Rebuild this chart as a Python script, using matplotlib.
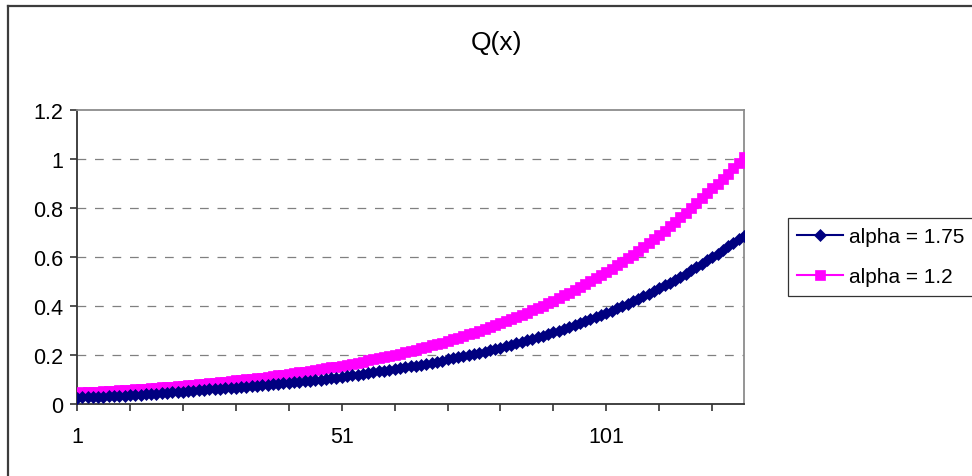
import matplotlib
matplotlib.use("Agg")
import matplotlib.pyplot as plt
from matplotlib.lines import Line2D

plt.rcParams['font.family'] = ['Liberation Sans', 'DejaVu Sans']

# ---- data ----
x = list(range(1, 128))

alpha_175 = [
    0.026, 0.027, 0.028, 0.028, 0.029, 0.030, 0.031, 0.032, 0.033, 0.034,
    0.035, 0.036, 0.037, 0.039, 0.040, 0.041, 0.043, 0.045, 0.047, 0.049,
    0.051, 0.053, 0.054, 0.056, 0.058, 0.060, 0.061, 0.063, 0.064, 0.066,
    0.067, 0.069, 0.071, 0.072, 0.074, 0.076, 0.078, 0.080, 0.082, 0.084,
    0.086, 0.088, 0.090, 0.092, 0.095, 0.097, 0.100, 0.102, 0.105, 0.108,
    0.111, 0.114, 0.117, 0.120, 0.123, 0.126, 0.129, 0.133, 0.136, 0.139,
    0.143, 0.146, 0.150, 0.154, 0.157, 0.161, 0.165, 0.169, 0.173, 0.177,
    0.182, 0.186, 0.190, 0.195, 0.200, 0.204, 0.209, 0.214, 0.219, 0.225,
    0.230, 0.236, 0.242, 0.247, 0.253, 0.260, 0.266, 0.272, 0.279, 0.286,
    0.292, 0.300, 0.307, 0.314, 0.322, 0.330, 0.338, 0.346, 0.354, 0.363,
    0.372, 0.381, 0.390, 0.399, 0.409, 0.419, 0.429, 0.440, 0.450, 0.461,
    0.472, 0.484, 0.495, 0.507, 0.520, 0.532, 0.545, 0.558, 0.572, 0.586,
    0.600, 0.614, 0.629, 0.644, 0.659, 0.673, 0.686,
]

alpha_12 = [
    0.046, 0.047, 0.048, 0.049, 0.050, 0.052, 0.053, 0.054, 0.056, 0.057,
    0.058, 0.060, 0.061, 0.063, 0.064, 0.066, 0.068, 0.069, 0.071, 0.073,
    0.075, 0.077, 0.078, 0.080, 0.082, 0.084, 0.087, 0.089, 0.091, 0.093,
    0.096, 0.098, 0.101, 0.103, 0.106, 0.108, 0.111, 0.114, 0.117, 0.120,
    0.123, 0.126, 0.129, 0.132, 0.135, 0.139, 0.142, 0.146, 0.149, 0.153,
    0.157, 0.161, 0.165, 0.169, 0.173, 0.178, 0.182, 0.187, 0.191, 0.196,
    0.201, 0.206, 0.211, 0.216, 0.222, 0.227, 0.233, 0.239, 0.245, 0.251,
    0.257, 0.264, 0.270, 0.277, 0.284, 0.291, 0.298, 0.306, 0.313, 0.321,
    0.329, 0.337, 0.346, 0.355, 0.363, 0.372, 0.382, 0.391, 0.401, 0.411,
    0.421, 0.432, 0.443, 0.454, 0.465, 0.477, 0.489, 0.501, 0.513, 0.526,
    0.539, 0.553, 0.567, 0.581, 0.595, 0.610, 0.625, 0.641, 0.657, 0.673,
    0.690, 0.707, 0.725, 0.743, 0.762, 0.781, 0.800, 0.820, 0.841, 0.860,
    0.880, 0.900, 0.920, 0.940, 0.962, 0.985, 1.008,
]

series_labels = ['alpha = 1.75', 'alpha = 1.2']
title = 'Q(x)'
x_tick_marks = list(range(1, 128, 10))
x_tick_text = {1: '1', 51: '51', 101: '101'}
y_ticks = [0, 0.2, 0.4, 0.6, 0.8, 1.0, 1.2]
y_tick_labels = ['0', '0.2', '0.4', '0.6', '0.8', '1', '1.2']

# ---- figure ----
W, H = 972, 477
fig = plt.figure(figsize=(W / 100, H / 100), dpi=100)
fig.patch.set_facecolor('white')

# outer chart frame (extends beyond the picture on right and bottom)
frame_col = '#3c3c3c'
fig.add_artist(Line2D([8 / W, 8 / W], [0, 1 - 7 / H], transform=fig.transFigure,
                      color=frame_col, lw=1.6))
fig.add_artist(Line2D([8 / W, 1], [1 - 7 / H, 1 - 7 / H], transform=fig.transFigure,
                      color=frame_col, lw=1.6))

left, right, top, bottom = 77, 744, 111, 405
ax = fig.add_axes([left / W, (H - bottom) / H, (right - left) / W, (bottom - top) / H])

ax.plot(x, alpha_12, color='#FF00FF', marker='s', markersize=6.5, lw=1.5,
        markeredgewidth=0.5, label=series_labels[1], zorder=3)
ax.plot(x, alpha_175, color='#000080', marker='D', markersize=6.5, lw=1.5,
        markeredgewidth=0.5, label=series_labels[0], zorder=4)

ax.set_xlim(1, 127)
ax.set_ylim(0, 1.2)

ax.set_yticks(y_ticks)
ax.set_yticklabels(y_tick_labels)
ax.set_xticks(x_tick_marks)
ax.set_xticklabels([x_tick_text.get(t, '') for t in x_tick_marks])

ax.tick_params(axis='both', direction='out', length=5, width=1.2, colors='#333333',
               labelcolor='black', labelsize=15.5)
ax.tick_params(axis='x', pad=11)
ax.tick_params(axis='y', pad=5)

for gy in y_ticks[1:-1]:
    ax.axhline(gy, color='#808080', lw=0.9, linestyle=(0, (7, 7)), zorder=1)

for side in ['left', 'bottom']:
    ax.spines[side].set_color('#333333')
    ax.spines[side].set_linewidth(1.3)
for side in ['top', 'right']:
    ax.spines[side].set_color('#8c8c8c')
    ax.spines[side].set_linewidth(1.3)

fig.text(496 / W, 1 - 43 / H, title, ha='center', va='center', fontsize=19)

handles, labels = ax.get_legend_handles_labels()
leg = fig.legend(handles[::-1], labels[::-1], loc='upper left',
                 bbox_to_anchor=(788 / W, 1 - 219 / H), bbox_transform=fig.transFigure,
                 fontsize=15, frameon=True, fancybox=False, handlelength=2.2,
                 handletextpad=0.3, borderpad=0.45, labelspacing=1.0,
                 borderaxespad=0)
leg.get_frame().set_edgecolor('black')
leg.get_frame().set_linewidth(0.9)

fig.savefig('out.png', dpi=100, facecolor='white')
